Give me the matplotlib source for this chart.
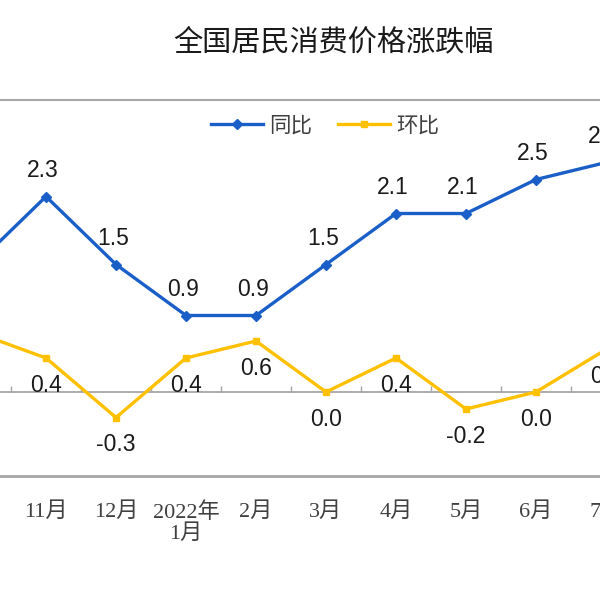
import matplotlib
matplotlib.use('Agg')
import matplotlib.pyplot as plt
import matplotlib.transforms as mtransforms
import numpy as np

# monthly CPI change (%), Oct 2021 .. Jul 2022
months = ['10月', '11月', '12月', '2022年\n1月', '2月', '3月', '4月', '5月', '6月', '7月']
yoy = [1.5, 2.3, 1.5, 0.9, 0.9, 1.5, 2.1, 2.1, 2.5, 2.7]
mom = [0.7, 0.4, -0.3, 0.4, 0.6, 0.0, 0.4, -0.2, 0.0, 0.5]

BLUE = '#1a5fc8'
YELLOW = '#ffc000'
GRAY = '#a6a6a6'

plt.rcParams['font.family'] = ['Liberation Sans', 'Noto Sans CJK SC', 'DejaVu Sans']

fig = plt.figure(figsize=(6, 6), dpi=100)
# chart is cropped: 70 px per month, 11月 sits at x=46 px
ax = fig.add_axes([0, (600 - 476) / 600, 1, 376 / 600])
x = np.arange(len(months))

ax.plot(x, yoy, color=BLUE, lw=2.4, marker='D', ms=5.5, label='同比', zorder=3)
ax.plot(x, mom, color=YELLOW, lw=2.4, marker='s', ms=5, label='环比', zorder=3)

# the first month lies left of the crop, so its labels are not shown
for xi, v in zip(x[1:], yoy[1:]):
    ax.annotate(f'{v:.1f}', (xi, v), xytext=(-2, 18.5), textcoords='offset points',
                ha='center', va='center', fontsize=16.5, color='#1a1a1a',
                annotation_clip=False)
for xi, v in zip(x[1:], mom[1:]):
    ax.annotate(f'{v:.1f}', (xi, v), xytext=(0, -19.5), textcoords='offset points',
                ha='center', va='center', fontsize=16.5, color='#1a1a1a',
                annotation_clip=False)

# frame: top line, zero line with tick marks, bottom line
for s in ['left', 'right']:
    ax.spines[s].set_visible(False)
ax.spines['top'].set_color(GRAY)
ax.spines['top'].set_linewidth(1.5)
ax.spines['bottom'].set_position(('data', 0))
ax.spines['bottom'].set_color(GRAY)
ax.spines['bottom'].set_linewidth(1.3)

ax.set_yticks([])
ax.set_xticks([])
ax.set_xticks(np.arange(len(months) + 1) - 0.5, minor=True)
ax.tick_params(axis='x', which='minor', direction='in', length=4, color=GRAY, width=1)

ax.set_xlim((0 - 46) / 70 + 1, (600 - 46) / 70 + 1)
ax.set_ylim(-(476 - 392) / 85, (392 - 100) / 85)
ax.axhline(ax.get_ylim()[0], color=GRAY, lw=2.0, clip_on=False)

# month labels (drawn as text so the half-cut one at the right edge shows)
trans = mtransforms.blended_transform_factory(ax.transData, ax.transAxes)
for xi, m in zip(x[1:], months[1:]):
    ax.text(xi, (476 - 502) / 376, m, transform=trans, ha='center', va='top',
            fontsize=16, color='#404040', linespacing=1.1, clip_on=False,
            family=['Liberation Serif', 'Noto Sans CJK SC'])

fig.text(333 / 600, 1 - 42 / 600, '全国居民消费价格涨跌幅', ha='center', va='center',
         fontsize=21, family=['Noto Sans CJK SC'], color='#1a1a1a')

fig.legend(loc='center', bbox_to_anchor=(325 / 600, 1 - 126 / 600), ncol=2,
           frameon=False, fontsize=15.5, handlelength=2.4, columnspacing=1.2,
           handletextpad=0.3, labelcolor='#404040')

fig.savefig('out.png', dpi=100)
